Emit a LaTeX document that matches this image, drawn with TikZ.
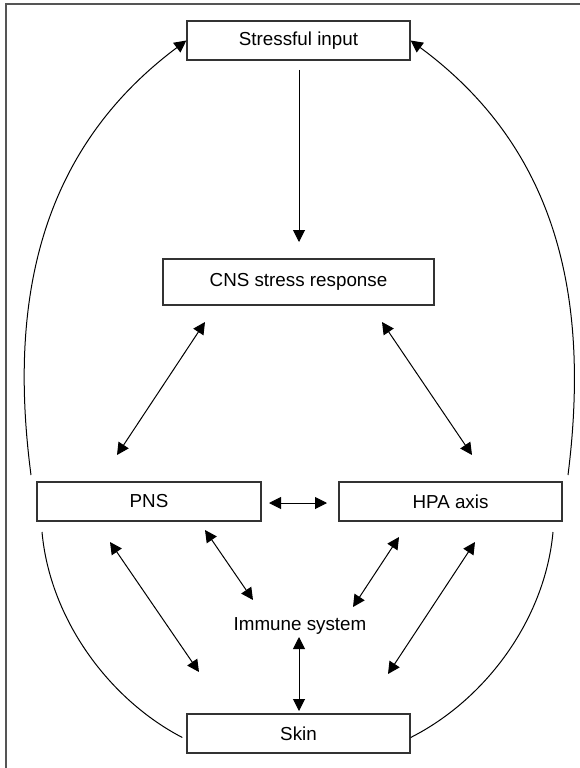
\documentclass[tikz,border=0pt]{standalone}
\usepackage{fontspec}
\setmainfont{Liberation Sans}
\usetikzlibrary{arrows.meta}
\definecolor{boxc}{HTML}{333333}
\definecolor{framec}{HTML}{555555}
\newcommand\lbltxt{\fontsize{18.8}{22}\selectfont}
\begin{document}
\begin{tikzpicture}[x=1pt,y=-1pt,
  box/.style={draw=boxc, line width=1.3pt, minimum height=39pt, inner sep=0pt, font=\lbltxt},
  con/.style={line width=1pt, draw=black},
  onehead/.style={-{Triangle[length=12pt,width=12pt]}},
  twohead/.style={{Triangle[length=12pt,width=12pt]}-{Triangle[length=12pt,width=12pt]}},
]
\useasboundingbox (0,0) rectangle (580,768);
\fill[white] (0,0) rectangle (580,768);
\draw[line width=2pt, framec] (5.5,768) -- (5.5,4.5) -- (580,4.5);

\node[box, minimum width=223pt] (si) at (298.5,40.5) {Stressful input};
\node[box, minimum width=271pt, minimum height=46pt] (cns) at (298.5,282) {CNS stress response};
\node[box, minimum width=224pt] (pns) at (149,501.5) {PNS};
\node[box, minimum width=223pt] (hpa) at (450.5,501.5) {HPA axis};
\node[box, minimum width=223pt] (skin) at (298.5,733.5) {Skin};
\node[font=\lbltxt, inner sep=0pt] (imm) at (300,626) {Immune system};

% connector end points
\coordinate (siS) at (299,70);
\coordinate (cnsN) at (299,242);
\coordinate (cnsL) at (205,322);
\coordinate (pnsT) at (117,455);
\coordinate (cnsR) at (382,322);
\coordinate (hpaT) at (472,455);
\coordinate (pnsR) at (269,503);
\coordinate (hpaL) at (327,503);
\coordinate (pnsB1) at (110,542);
\coordinate (skinL) at (199,672);
\coordinate (pnsB2) at (205,530);
\coordinate (immL) at (253,600);
\coordinate (hpaB1) at (399,537);
\coordinate (immR) at (353,607);
\coordinate (hpaB2) at (475,542);
\coordinate (skinR) at (388,674);
\coordinate (immB) at (299,637);
\coordinate (skinT) at (299,711);
\coordinate (pnsUL) at (31,475);
\coordinate (hpaUR) at (568,475);
\coordinate (pnsDL) at (42,532);
\coordinate (hpaDR) at (553,532);

\draw[con, onehead] (siS) -- (cnsN);
\draw[con, twohead] (cnsL) -- (pnsT);
\draw[con, twohead] (cnsR) -- (hpaT);
\draw[con, twohead] (pnsR) -- (hpaL);
\draw[con, twohead] (pnsB1) -- (skinL);
\draw[con, twohead] (pnsB2) -- (immL);
\draw[con, twohead] (hpaB1) -- (immR);
\draw[con, twohead] (hpaB2) -- (skinR);
\draw[con, twohead] (immB) -- (skinT);

\draw[con, onehead] (pnsUL) .. controls (8,300) and (40,150) .. (si.west);
\draw[con, onehead] (hpaUR) .. controls (590,300) and (559,150) .. (si.east);
\draw[con] (pnsDL) .. controls (50,620) and (110,700) .. ([xshift=-4pt,yshift=-4pt]skin.west);
\draw[con] (hpaDR) .. controls (545,620) and (485,700) .. ([yshift=-4pt]skin.east);
\end{tikzpicture}
\end{document}
